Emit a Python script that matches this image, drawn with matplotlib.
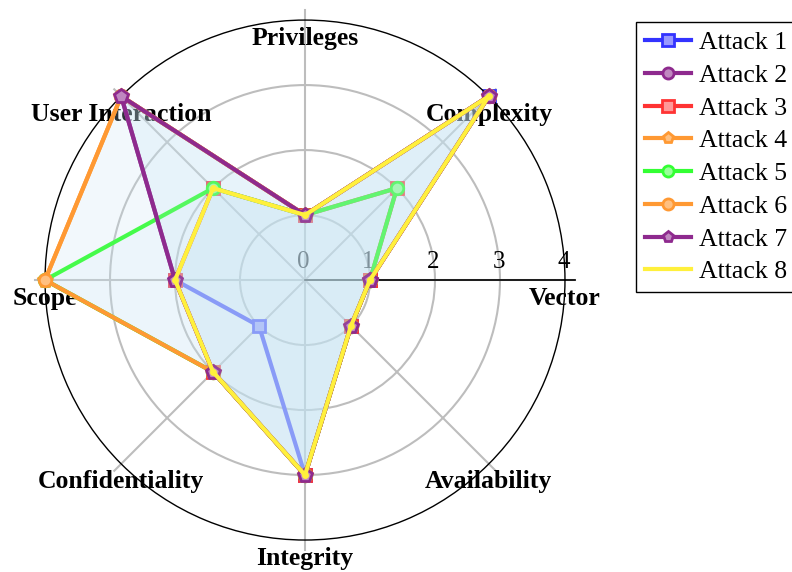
import numpy as np
import matplotlib.pyplot as plt
from matplotlib.lines import Line2D

# --- data ---
categories = ['Vector', 'Complexity', 'Privileges', 'User Interaction',
              'Scope', 'Confidentiality', 'Integrity', 'Availability']
attack_names = ['Attack 1', 'Attack 2', 'Attack 3', 'Attack 4',
                'Attack 5', 'Attack 6', 'Attack 7', 'Attack 8']
attack_1 = [1, 4, 1, 2, 2, 1, 3, 1]
attack_2 = [1, 4, 1, 4, 2, 2, 3, 1]
attack_3 = [1, 2, 1, 2, 2, 2, 3, 1]
attack_4 = [1, 4, 1, 4, 4, 2, 3, 1]
attack_5 = [1, 2, 1, 2, 4, 2, 3, 1]
attack_6 = [1, 4, 1, 4, 4, 2, 3, 1]
attack_7 = [1, 4, 1, 4, 2, 2, 3, 1]
attack_8 = [1, 4, 1, 2, 2, 2, 3, 1]
r_ticks = [0, 1, 2, 3, 4]

attacks = [attack_1, attack_2, attack_3, attack_4,
           attack_5, attack_6, attack_7, attack_8]
colors = ['#3333ff', '#8e2a8e', '#ff3333', '#ff9933',
          '#33ff33', '#ff9933', '#8e2a8e', '#fff03c']
faces = ['#9999ff', '#c088c0', '#ff9999', '#ffc080',
         '#99ff99', '#ffc080', '#c088c0', '#fff03c']
markers = ['s', 'o', 's', 'p', 'o', 'o', 'p', 'o']
msizes = [9, 9, 9, 10, 9, 9, 10, 3]

serif = 'Liberation Serif'
angles = np.deg2rad(np.arange(len(categories)) * 45.0)
closed = np.append(angles, angles[0])

fig = plt.figure(figsize=(7.92, 5.72), dpi=100)
ax = fig.add_axes([0.0568, 0.0559, 0.6566, 0.909], projection='polar')
ax.set_ylim(0, 4)
ax.set_xticks([])
ax.set_rgrids([1, 2, 3], labels=[])
ax.yaxis.grid(True, color='#bdbdbd', linewidth=1.5)
ax.xaxis.grid(False)
ax.spines['polar'].set_color('black')
ax.spines['polar'].set_linewidth(1.0)
ax.set_axisbelow(True)

# spokes, slightly longer than the outer ring
for a in angles:
    ax.plot([a, a], [0, 4.15], color='#bdbdbd', lw=1.5, zorder=0.6, clip_on=False)
ax.plot([0, 0], [0, 4.15], color='black', lw=1.2, zorder=0.7, clip_on=False)

# radial tick labels
for t in r_ticks:
    ax.annotate(str(t), xy=(0, t), xytext=(-1, 13), textcoords='offset points',
                ha='center', va='center', fontsize=18, family=serif,
                zorder=0.8, annotation_clip=False)

# axis names
for a, name in zip(angles, categories):
    ax.annotate(name, xy=(a, 4), xytext=(0, -13), textcoords='offset points',
                ha='center', va='center', fontsize=18.5, family=serif,
                fontweight='bold', zorder=0.9, annotation_clip=False)

# series: fill then outline, each one on top of the previous
z = 2
for vals, c, fc, m, ms in zip(attacks, colors, faces, markers, msizes):
    v = np.append(vals, vals[0])
    ax.fill(closed, v, color='#c8e6f5', alpha=0.12, lw=0, zorder=z)
    ax.plot(closed, v, color=c, lw=3, marker=m, markersize=ms,
            markerfacecolor=fc, markeredgecolor=c, markeredgewidth=2,
            zorder=z + 0.5, clip_on=False)
    z += 1

handles = []
for i, (c, fc, m) in enumerate(zip(colors, faces, markers)):
    if i == 7:
        handles.append(Line2D([], [], color=c, lw=3))
    else:
        handles.append(Line2D([], [], color=c, lw=3, marker=m,
                              markersize=8, markerfacecolor=fc,
                              markeredgecolor=c, markeredgewidth=2))

leg = fig.legend(handles, attack_names, loc='upper left',
                 bbox_to_anchor=(0.803, 0.9615), frameon=True, fancybox=False,
                 edgecolor='black', framealpha=1, prop={'family': serif, 'size': 18.5},
                 handlelength=1.8, handletextpad=0.3, labelspacing=0.38,
                 borderpad=0.35, borderaxespad=0)
leg.get_frame().set_linewidth(1.0)

plt.savefig('out.png', dpi=100)
